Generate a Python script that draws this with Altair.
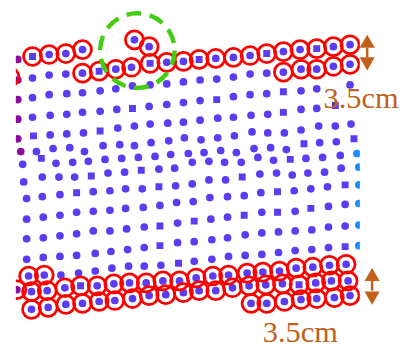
import altair as alt
import pandas as pd

# codes: o round, s square, O circled round, S circled square, p purple edge, P circled purple, b blue edge
row_g = [(137, 37, 'O'), (152, 44, 'O')]
row01 = [(18, 57, 'p'), (33, 54, 'S'), (50, 52, 'O'), (67, 51, 'O'), (84, 47, 'O')]
row02 = [(18, 78, 'p'), (33, 76, 'o'), (50, 73, 'o'), (67, 72, 'o'), (84, 71, 'O'), (101, 69, 'S'), (118, 67, 'O'),
         (134, 65, 'O'), (153, 61, 'S'), (170, 60, 'O'), (187, 59, 'O'), (203, 57, 'S'), (220, 56, 'O'), (238, 55, 'O'),
         (255, 53, 'O'), (272, 51, 'S'), (289, 49, 'O'), (306, 47, 'O'), (323, 46, 'S'), (340, 44, 'O'), (357, 42, 'O')]
row03 = [(18, 98, 'p'), (33, 96, 'o'), (50, 93, 'o'), (68, 92, 'o'), (84, 91, 'o'), (102, 89, 'o'), (118, 87, 'o'),
         (135, 84, 'o'), (153, 83, 'o'), (170, 82, 'o'), (187, 80, 'o'), (204, 78, 'o'), (221, 77, 'o'), (238, 75, 'o'),
         (255, 72, 'o'), (272, 71, 'o'), (289, 70, 'O'), (307, 67, 'O'), (323, 67, 'O'), (340, 64, 'O'), (357, 62, 'O')]
row04 = [(18, 118, 'p'), (33, 116, 'o'), (51, 114, 'o'), (68, 113, 'o'), (84, 111, 'o'), (102, 110, 'o'), (119, 108, 'o'),
         (135, 107, 's'), (152, 105, 'o'), (170, 103, 'o'), (187, 101, 'o'), (204, 99, 'o'), (221, 98, 's'), (238, 95, 'o'),
         (255, 93, 'o'), (272, 92, 'o'), (289, 90, 's'), (307, 89, 'o'), (323, 87, 'o'), (357, 83, 'o')]
row05 = [(18, 138, 'p'), (34, 135, 's'), (51, 134, 'o'), (68, 133, 'o'), (85, 132, 'o'), (102, 130, 's'), (120, 127, 'o'),
         (137, 125, 'o'), (153, 123, 'o'), (171, 122, 'o'), (187, 121, 'o'), (204, 119, 'o'), (222, 117, 'o'), (238, 116, 'o'),
         (256, 114, 'o'), (273, 113, 'o'), (289, 111, 's'), (307, 108, 'o'), (323, 107, 'o'), (342, 104, 's')]
row06 = [(21, 151, 'p'), (37, 151, 'o'), (54, 148, 'o'), (71, 147, 'o'), (86, 151, 'o'), (105, 145, 'o'), (122, 144, 'o'),
         (137, 145, 'o'), (154, 142, 'o'), (172, 140, 'o'), (188, 137, 'o'), (205, 139, 'o'), (222, 137, 'o'), (239, 135, 'o'),
         (257, 131, 'o'), (273, 132, 'o'), (290, 132, 'o'), (307, 129, 'o'), (325, 125, 'o'), (342, 125, 'o'), (358, 123, 'o')]
row07 = [(23, 164, 'o'), (42, 158, 's'), (57, 163, 'o'), (74, 162, 'o'), (90, 161, 'o'), (107, 159, 'o'), (124, 158, 'o'),
         (141, 157, 'o'), (158, 156, 'o'), (174, 154, 'o'), (192, 153, 'o'), (208, 152, 'o'), (225, 150, 'o'), (241, 152, 'o'),
         (259, 148, 'o'), (276, 147, 'o'), (292, 149, 'o'), (310, 143, 's'), (326, 142, 'o'), (343, 141, 'o'), (361, 138, 's')]
row08 = [(24, 182, 'o'), (43, 177, 'o'), (60, 177, 'o'), (76, 177, 'o'), (93, 176, 's'), (110, 173, 'o'), (127, 172, 'o'),
         (144, 170, 's'), (162, 169, 'o'), (178, 168, 'o'), (196, 162, 'o'), (213, 161, 'o'), (229, 162, 'o'), (246, 162, 'o'),
         (263, 157, 'o'), (279, 160, 'o'), (296, 159, 's'), (312, 158, 'o'), (329, 157, 'o'), (347, 155, 'o'), (364, 153, 'b')]
row09 = [(27, 199, 'o'), (43, 197, 'o'), (61, 195, 'o'), (78, 193, 's'), (95, 192, 'o'), (112, 191, 'o'), (128, 189, 'o'),
         (145, 189, 'o'), (162, 187, 's'), (179, 186, 'o'), (196, 184, 'o'), (213, 180, 'o'), (230, 180, 'o'), (247, 177, 's'),
         (265, 174, 'o'), (282, 173, 'o'), (298, 175, 'o'), (314, 173, 'o'), (331, 172, 'o'), (348, 168, 'o'), (366, 167, 'b')]
row10 = [(27, 220, 'o'), (44, 218, 'o'), (61, 216, 'o'), (78, 213, 'o'), (95, 212, 'o'), (112, 211, 'o'), (128, 209, 'o'),
         (146, 208, 'o'), (163, 206, 'o'), (180, 203, 'o'), (197, 202, 'o'), (214, 198, 'o'), (232, 197, 'o'), (249, 196, 'o'),
         (266, 193, 'o'), (283, 192, 's'), (300, 191, 'o'), (317, 189, 'o'), (334, 187, 'o'), (352, 185, 's'), (366, 185, 'b')]
row11 = [(27, 240, 'o'), (44, 239, 'o'), (61, 237, 'o'), (78, 235, 'o'), (95, 232, 'o'), (112, 232, 'o'), (129, 230, 'o'),
         (147, 228, 'o'), (163, 227, 's'), (181, 224, 'o'), (198, 222, 's'), (215, 220, 'o'), (232, 218, 'o'), (249, 216, 's'),
         (267, 213, 'o'), (283, 213, 's'), (301, 212, 'o'), (317, 209, 's'), (335, 207, 'o'), (352, 205, 'o'), (366, 204, 'b')]
row12 = [(27, 261, 'o'), (44, 259, 'o'), (61, 258, 'o'), (78, 257, 'o'), (97, 255, 'o'), (113, 253, 'o'), (130, 251, 'o'),
         (147, 249, 'o'), (163, 247, 's'), (181, 244, 'o'), (198, 243, 'o'), (216, 241, 'o'), (232, 239, 'o'), (250, 236, 'o'),
         (267, 234, 'o'), (284, 233, 'o'), (301, 232, 'o'), (318, 231, 'o'), (335, 228, 'o'), (352, 227, 'o'), (366, 226, 'b')]
row13 = [(29, 278, 'O'), (45, 277, 'O'), (62, 277, 'o'), (80, 275, 'o'), (97, 273, 'o'), (114, 270, 'o'), (131, 268, 'o'),
         (147, 268, 'o'), (164, 267, 'o'), (182, 265, 's'), (198, 263, 'o'), (216, 261, 'o'), (233, 258, 'o'), (250, 257, 'o'),
         (267, 256, 'o'), (284, 254, 'o'), (301, 252, 'o'), (318, 251, 'o'), (335, 249, 'o'), (352, 248, 's'), (366, 247, 'b')]
row14 = [(17, 292, 'P'), (32, 294, 'O'), (48, 293, 'O'), (66, 290, 'O'), (82, 288, 'S'), (99, 288, 'O'), (116, 286, 'O'),
         (132, 285, 'O'), (149, 285, 'O'), (166, 283, 'O'), (183, 283, 'O'), (200, 280, 'O'), (217, 278, 'O'), (233, 277, 'O'),
         (252, 275, 'O'), (268, 274, 'O'), (285, 273, 'O'), (302, 270, 'O'), (319, 269, 'O'), (336, 267, 'O'), (353, 266, 'O')]
row15 = [(32, 312, 'O'), (49, 310, 'O'), (67, 307, 'O'), (84, 306, 'O'), (101, 304, 'O'), (117, 303, 'O'), (135, 301, 'O'),
         (152, 298, 'O'), (169, 297, 'O'), (187, 295, 'O'), (203, 293, 'O'), (220, 293, 'O'), (237, 290, 'O'), (254, 288, 'O'),
         (271, 287, 'O'), (288, 286, 'O'), (305, 287, 'S'), (322, 285, 'O'), (338, 283, 'O'), (355, 283, 'O')]
row16 = [(256, 306, 'O'), (272, 306, 'O'), (290, 304, 'O'), (307, 302, 'O'), (323, 301, 'O'), (341, 300, 'O'), (357, 298, 'O')]

extra_ring_x = [10]
extra_ring_y = [75]

green_x = [140]
green_y = [48]

arrow_x = [374.5, 379.5]
arrow_up_y = [38.5, 276.5]
arrow_down_y = [61.5, 300.5]
arrow_bar_top = [45, 283]
arrow_bar_bottom = [55, 293]

label_text = ["3.5cm", "3.5cm"]
label_x = [330, 268]
label_y = [107, 345]

rows = [row_g, row01, row02, row03, row04, row05, row06, row07, row08, row09, row10,
        row11, row12, row13, row14, row15, row16]
recs = []
for r in rows:
    for x, y, c in r:
        kind = 'main'
        if c in 'pP':
            kind = 'left'
        elif c in 'bB':
            kind = 'right'
        recs.append({'x': x, 'y': y,
                     'shape': 'square' if c in 'sS' else 'round',
                     'kind': kind,
                     'ring': c in 'OSPB'})
dots = pd.DataFrame(recs)
rings = pd.concat([dots[dots['ring']][['x', 'y']],
                   pd.DataFrame({'x': extra_ring_x, 'y': extra_ring_y})], ignore_index=True)

X = alt.Scale(domain=[16, 367], nice=False, zero=False)
Y = alt.Scale(domain=[8, 341], nice=False, zero=False, reverse=True)

def xe(f='x'):
    return alt.X(f'{f}:Q', scale=X, axis=None)

def ye(f='y'):
    return alt.Y(f'{f}:Q', scale=Y, axis=None)

dot_layer = alt.Chart(dots).mark_point(filled=True, opacity=1, clip=True).encode(
    x=xe(), y=ye(),
    shape=alt.Shape('shape:N', scale=alt.Scale(domain=['round', 'square'], range=['circle', 'square']), legend=None),
    size=alt.Size('shape:N', scale=alt.Scale(domain=['round', 'square'], range=[62, 50]), legend=None),
    color=alt.Color('kind:N', scale=alt.Scale(domain=['main', 'left', 'right'],
                                              range=['#5b3cf0', '#8c0a9c', '#1a8cff']), legend=None),
)

ring_layer = alt.Chart(rings).mark_point(shape='circle', filled=False, size=335, color='#ff0000',
                                         strokeWidth=2.8, opacity=1, clip=True).encode(x=xe(), y=ye())

green_layer = alt.Chart(pd.DataFrame({'x': green_x, 'y': green_y})).mark_point(
    shape='circle', filled=False, size=5800, color='#44cc11', strokeWidth=4.5, opacity=1,
    strokeDash=[15, 9]).encode(x=xe(), y=ye())

arrows = pd.DataFrame({'x': arrow_x, 'yu': arrow_up_y, 'yd': arrow_down_y,
                       'y1': arrow_bar_top, 'y2': arrow_bar_bottom})
up_layer = alt.Chart(arrows).mark_point(shape='triangle-up', filled=True, size=240, color='#c0601a',
                                        opacity=1).encode(x=xe(), y=ye('yu'))
down_layer = alt.Chart(arrows).mark_point(shape='triangle-down', filled=True, size=240, color='#c0601a',
                                          opacity=1).encode(x=xe(), y=ye('yd'))
bar_layer = alt.Chart(arrows).mark_rule(color='#c0601a', strokeWidth=2.5).encode(
    x=xe(), y=ye('y1'), y2='y2:Q')

labels = pd.DataFrame({'t': label_text, 'x': label_x, 'y': label_y})
text_layer = alt.Chart(labels).mark_text(font='Liberation Serif', fontSize=31, color='#c0601a',
                                         align='left', baseline='alphabetic').encode(
    x=xe(), y=ye(), text='t:N')

chart = alt.layer(dot_layer, ring_layer, green_layer, bar_layer, up_layer, down_layer, text_layer).properties(
    width=351, height=333,
    padding={'left': 8, 'right': 42, 'top': 0, 'bottom': 8},
    autosize=alt.AutoSizeParams(type='none'),
).configure_view(stroke=None)

chart.save("out.html", embed_options={"renderer": "svg", "actions": False})
